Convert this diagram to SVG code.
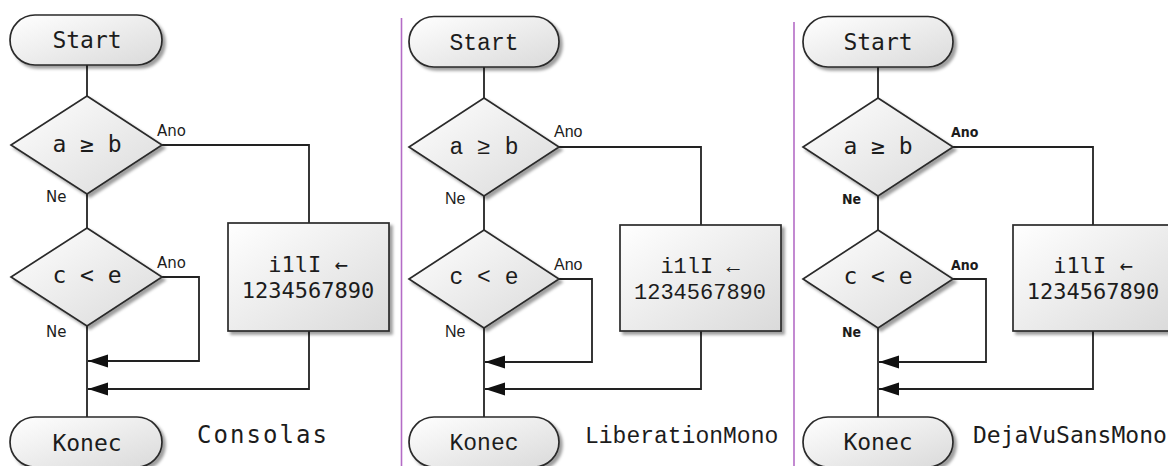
<svg xmlns="http://www.w3.org/2000/svg" width="1168" height="466" viewBox="0 0 1168 466">
  <defs>
    <linearGradient id="fill" x1="0" y1="0" x2="1" y2="1">
      <stop offset="0" stop-color="#ffffff"/>
      <stop offset="1" stop-color="#dadada"/>
    </linearGradient>
    <filter id="shadow" x="-10%" y="-10%" width="130%" height="140%">
      <feDropShadow dx="3" dy="3" stdDeviation="1.4" flood-color="#000" flood-opacity="0.38"/>
    </filter>
    <marker id="arrow" markerUnits="userSpaceOnUse" markerWidth="21" markerHeight="14" refX="20" refY="6.5" orient="auto">
      <path d="M0,0 L20,6.5 L0,13 Z" fill="#111"/>
    </marker>
    <style>
      .shape { fill: url(#fill); stroke: #2a2a2a; stroke-width: 1.7; filter: url(#shadow); }
      .wire { fill: none; stroke: #222; stroke-width: 1.8; }
      .arr { fill: none; stroke: #222; stroke-width: 1.8; marker-end: url(#arrow); }
      .divider { stroke: #b46cc6; stroke-width: 1.6; }
      .t { fill: #1c1c1c; font-size: 23px; text-anchor: middle; }
      .bx { font-size: 22px; }
      .cons { font-family: "DejaVu Sans Mono", monospace; }
      .lib { font-family: "Liberation Mono", monospace; }
      .dvs { font-family: "DejaVu Sans Mono", monospace; }
      .lbl1 { fill: #1c1c1c; font-family: "DejaVu Sans", sans-serif; font-size: 15px; }
      .lbl2 { fill: #1c1c1c; font-family: "Liberation Sans", sans-serif; font-size: 16px; }
      .lbl3 { fill: #1c1c1c; font-family: "DejaVu Sans", sans-serif; font-size: 14px; font-weight: bold; font-stretch: condensed; }
    </style>
  </defs>

  <rect width="1168" height="466" fill="#ffffff"/>

  <!-- panel separators -->
  <line class="divider" x1="401.5" y1="18" x2="401.5" y2="466"/>
  <line class="divider" x1="794" y1="22" x2="794" y2="466"/>

  <!-- connectors -->
  <g id="connectors">
    <!-- panel 1 -->
    <line class="wire" x1="87" y1="65" x2="87" y2="96"/>
    <line class="wire" x1="87" y1="194" x2="87" y2="228"/>
    <line class="wire" x1="87" y1="326" x2="87" y2="417"/>
    <polyline class="wire" points="162,145 309,145 309,223"/>
    <polyline class="arr" points="162,277 199,277 199,361 88,361"/>
    <polyline class="arr" points="309,331 309,389 88,389"/>
    <!-- panel 2 -->
    <line class="wire" x1="484" y1="67" x2="484" y2="98"/>
    <line class="wire" x1="484" y1="196" x2="484" y2="230"/>
    <line class="wire" x1="484" y1="328" x2="484" y2="417"/>
    <polyline class="wire" points="559,147 701,147 701,225"/>
    <polyline class="arr" points="559,279 592,279 592,362 485,362"/>
    <polyline class="arr" points="701,331 701,389 485,389"/>
    <!-- panel 3 -->
    <line class="wire" x1="878" y1="67" x2="878" y2="98"/>
    <line class="wire" x1="878" y1="196" x2="878" y2="230"/>
    <line class="wire" x1="878" y1="328" x2="878" y2="417"/>
    <polyline class="wire" points="953,147 1093,147 1093,225"/>
    <polyline class="arr" points="953,279 986,279 986,362 879,362"/>
    <polyline class="arr" points="1093,331 1093,389 879,389"/>
  </g>

  <!-- ===== Consolas ===== -->
  <g id="start1">
    <rect class="shape" x="10" y="15" width="152" height="50" rx="25"/>
    <text class="t cons" x="87" y="48">Start</text>
  </g>
  <g id="cond1a">
    <polygon class="shape" points="87,96 162,145 87,194 11,145"/>
    <text class="t cons" x="87" y="152">a ≥ b</text>
  </g>
  <g id="cond1b">
    <polygon class="shape" points="87,228 162,277 87,326 11,277"/>
    <text class="t cons" x="87" y="283">c &lt; e</text>
  </g>
  <g id="assign1">
    <rect class="shape" x="228" y="223" width="161" height="108"/>
    <text class="t bx cons" x="308" y="272">i1lI ←</text>
    <text class="t bx cons" x="308" y="298">1234567890</text>
  </g>
  <g id="end1">
    <rect class="shape" x="10" y="417" width="152" height="50" rx="25"/>
    <text class="t cons" x="87" y="451">Konec</text>
  </g>
  <g id="labels1">
    <text class="lbl1" x="157" y="136">Ano</text>
    <text class="lbl1" x="46" y="202">Ne</text>
    <text class="lbl1" x="157" y="268">Ano</text>
    <text class="lbl1" x="46" y="337">Ne</text>
    <text fill="#1c1c1c" font-family="DejaVu Sans Mono, monospace" font-size="24" x="197" y="443" textLength="130" lengthAdjust="spacing">Consolas</text>
  </g>

  <!-- ===== LiberationMono ===== -->
  <g id="start2">
    <rect class="shape" x="409" y="16.5" width="150" height="50.5" rx="25"/>
    <text class="t lib" x="484" y="50">Start</text>
  </g>
  <g id="cond2a">
    <polygon class="shape" points="484,98 559,147 484,196 409,147"/>
    <text class="t lib" x="484" y="154">a ≥ b</text>
  </g>
  <g id="cond2b">
    <polygon class="shape" points="484,230 559,279 484,328 409,279"/>
    <text class="t lib" x="484" y="284">c &lt; e</text>
  </g>
  <g id="assign2">
    <rect class="shape" x="620" y="225" width="161" height="106"/>
    <text class="t bx lib" x="700" y="273">i1lI ←</text>
    <text class="t bx lib" x="700" y="299">1234567890</text>
  </g>
  <g id="end2">
    <rect class="shape" x="409" y="417" width="150" height="50" rx="25"/>
    <text class="t lib" x="484" y="450">Konec</text>
  </g>
  <g id="labels2">
    <text class="lbl2" x="554" y="137">Ano</text>
    <text class="lbl2" x="445" y="204">Ne</text>
    <text class="lbl2" x="554" y="270">Ano</text>
    <text class="lbl2" x="445" y="337">Ne</text>
    <text fill="#1c1c1c" font-family="Liberation Mono, monospace" font-size="23" x="585" y="443">LiberationMono</text>
  </g>

  <!-- ===== DejaVuSansMono ===== -->
  <g id="start3">
    <rect class="shape" x="803" y="16.5" width="150" height="50.5" rx="25"/>
    <text class="t dvs" x="878" y="50">Start</text>
  </g>
  <g id="cond3a">
    <polygon class="shape" points="878,98 953,147 878,196 803,147"/>
    <text class="t dvs" x="878" y="154">a ≥ b</text>
  </g>
  <g id="cond3b">
    <polygon class="shape" points="878,230 953,279 878,328 803,279"/>
    <text class="t dvs" x="878" y="284">c &lt; e</text>
  </g>
  <g id="assign3">
    <rect class="shape" x="1013" y="225" width="162" height="106"/>
    <text class="t bx dvs" x="1093" y="273">i1lI ←</text>
    <text class="t bx dvs" x="1093" y="299">1234567890</text>
  </g>
  <g id="end3">
    <rect class="shape" x="803" y="417" width="150" height="50" rx="25"/>
    <text class="t dvs" x="878" y="450">Konec</text>
  </g>
  <g id="labels3">
    <text class="lbl3" x="951" y="137">Ano</text>
    <text class="lbl3" x="842" y="204">Ne</text>
    <text class="lbl3" x="951" y="270">Ano</text>
    <text class="lbl3" x="842" y="337">Ne</text>
    <text fill="#1c1c1c" font-family="DejaVu Sans Mono, monospace" font-size="23" x="973" y="443">DejaVuSansMono</text>
  </g>
</svg>
